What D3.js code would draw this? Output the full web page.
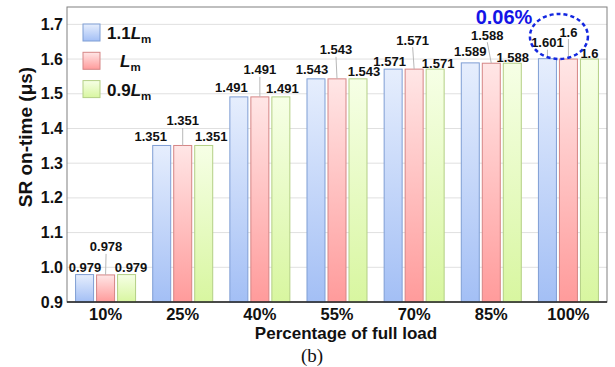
<!DOCTYPE html>
<html><head><meta charset="utf-8">
<script src="https://cdn.jsdelivr.net/npm/d3@7"></script>
<style>body{margin:0;background:#fff}svg{display:block}</style>
</head><body>
<svg id="c" width="615" height="367"></svg>
<script>
// ---- data ----
const categories = ["10%","25%","40%","55%","70%","85%","100%"];
const seriesNames = ["1.1Lm","Lm","0.9Lm"];
const s11 = [0.979,1.351,1.491,1.543,1.571,1.589,1.601];
const s10 = [0.978,1.351,1.491,1.543,1.571,1.588,1.6];
const s09 = [0.979,1.351,1.491,1.543,1.571,1.588,1.6];
const valueLabels11 = ["0.979","1.351","1.491","1.543","1.571","1.589","1.601"];
const valueLabels10 = ["0.978","1.351","1.491","1.543","1.571","1.588","1.6"];
const valueLabels09 = ["0.979","1.351","1.491","1.543","1.571","1.588","1.6"];
const yTicks = [0.9,1.0,1.1,1.2,1.3,1.4,1.5,1.6,1.7];
const annotationText = "0.06%";

// ---- layout (label nudges: [dx, dy] per series per group) ----
const labelNudge = [
  [[0.5,-7.5],[0.5,-28],[4.5,-7.5]],
  [[-11,-8.5],[0,-24.5],[7.5,-8.5]],
  [[-7.5,-9],[0,-27],[1.5,-8]],
  [[-4,-9],[-1,-29],[6,-7]],
  [[-3.5,-8],[-1.5,-29],[3,-6]],
  [[0,-11],[-4,-28],[0.5,-6]],
  [[0,-16],[0,-27],[0,-6]]
];
const leaders = [[0,1],[1,1],[2,1],[3,1],[4,1],[5,1],[6,1],[6,0]];

const svg = d3.select("#c");
const L=67,T=7,R=607,B=302;
const x0 = d3.scaleBand().domain(categories).range([L,R]).padding(0);
const x1 = d3.scaleBand().domain(seriesNames).range([8.57, x0.bandwidth()-8.57]).paddingInner(0.143);
const y = d3.scaleLinear().domain([0.9,1.75]).range([B,T]);

const font = "'Liberation Sans', Arial, sans-serif";
const defs = svg.append("defs");
const grads = [
  {id:"gb", top:"#e6eefd", bot:"#a3bff5", stroke:"#7f9ed4"},
  {id:"gr", top:"#ffe6e6", bot:"#ff9b9b", stroke:"#d58585"},
  {id:"gg", top:"#f6ffe6", bot:"#d8f6a0", stroke:"#b3cf85"}
];
grads.forEach(g=>{
  const lg = defs.append("linearGradient").attr("id",g.id).attr("x1",0).attr("y1",0).attr("x2",0).attr("y2",1);
  lg.append("stop").attr("offset","0%").attr("stop-color",g.top);
  lg.append("stop").attr("offset","100%").attr("stop-color",g.bot);
});

// gridlines
svg.append("g").selectAll("line").data(yTicks.slice(1)).join("line")
  .attr("x1",L).attr("x2",R).attr("y1",d=>y(d)).attr("y2",d=>y(d))
  .attr("stroke","#e0e0e0").attr("stroke-width",1);

// border
svg.append("rect").attr("x",L).attr("y",T).attr("width",R-L).attr("height",B-T)
  .attr("fill","none").attr("stroke","#808080").attr("stroke-width",1);

const allSeries = [s11,s10,s09];
const allLabels = [valueLabels11,valueLabels10,valueLabels09];

// bars
const bars = [];
categories.forEach((c,i)=>{
  seriesNames.forEach((s,j)=>{
    bars.push({c,i,s,j,v:allSeries[j][i],label:allLabels[j][i]});
  });
});
svg.append("g").selectAll("rect").data(bars).join("rect")
  .attr("x",d=>x0(d.c)+x1(d.s)).attr("width",x1.bandwidth())
  .attr("y",d=>y(d.v)).attr("height",d=>B-y(d.v))
  .attr("fill",d=>`url(#${grads[d.j].id})`)
  .attr("stroke",d=>grads[d.j].stroke).attr("stroke-width",1);

// leader lines
svg.append("g").selectAll("line").data(leaders).join("line")
  .each(function(p){
    const d = bars[p[0]*3+p[1]];
    const cx = x0(d.c)+x1(d.s)+x1.bandwidth()/2;
    const n = labelNudge[d.i][d.j];
    d3.select(this).attr("x1",cx+n[0]).attr("y1",y(d.v)+n[1]+7)
      .attr("x2",cx).attr("y2",y(d.v));
  })
  .attr("stroke","#b8b8b8").attr("stroke-width",1);

// value labels
svg.append("g").selectAll("text").data(bars).join("text")
  .attr("x",d=>x0(d.c)+x1(d.s)+x1.bandwidth()/2+labelNudge[d.i][d.j][0])
  .attr("y",d=>y(d.v)+labelNudge[d.i][d.j][1]+4.5)
  .attr("text-anchor","middle").attr("font-family",font).attr("font-weight","bold")
  .attr("font-size",13).attr("fill","#111").text(d=>d.label);

// bottom axis line
svg.append("line").attr("x1",L).attr("x2",R).attr("y1",B).attr("y2",B).attr("stroke","#222").attr("stroke-width",1.5);

// y ticks
svg.append("g").selectAll("text").data(yTicks).join("text")
  .attr("x",63).attr("y",d=>y(d)+5.5).attr("text-anchor","end")
  .attr("font-family",font).attr("font-weight","bold").attr("font-size",16).attr("fill","#111")
  .text(d=>d3.format(".1f")(d));

// x ticks
svg.append("g").selectAll("text").data(categories).join("text")
  .attr("x",d=>x0(d)+x0.bandwidth()/2).attr("y",319.5).attr("text-anchor","middle")
  .attr("font-family",font).attr("font-weight","bold").attr("font-size",16.5).attr("fill","#111")
  .text(d=>d);

// axis titles
svg.append("text").attr("x",346).attr("y",339).attr("text-anchor","middle")
  .attr("font-family",font).attr("font-weight","bold").attr("font-size",17).attr("fill","#111")
  .text("Percentage of full load");
svg.append("text").attr("transform","translate(32,137) rotate(-90)").attr("text-anchor","middle")
  .attr("font-family",font).attr("font-weight","bold").attr("font-size",19).attr("fill","#111")
  .text("SR on-time (μs)");
svg.append("text").attr("x",312).attr("y",362).attr("text-anchor","middle")
  .attr("font-family","'Liberation Serif','Times New Roman',serif").attr("font-size",19).attr("fill","#111")
  .text("(b)");

// legend
const legendParts = [["1.1","L","m"],["","L","m"],["0.9","L","m"]];
legendParts.forEach((p,j)=>{
  const yy = 24 + j*28.3;
  svg.append("rect").attr("x",83).attr("y",yy).attr("width",17).attr("height",17)
    .attr("fill",`url(#${grads[j].id})`).attr("stroke",grads[j].stroke).attr("stroke-width",1);
  const t = svg.append("text").attr("x", p[0]===""?120:107).attr("y",yy+15)
    .attr("font-family",font).attr("font-weight","bold").attr("font-size",17).attr("fill","#111");
  if(p[0]) t.append("tspan").text(p[0]);
  t.append("tspan").attr("font-style","italic").text(p[1]);
  t.append("tspan").attr("font-size",11.5).attr("dy",4).text(p[2]);
});

// annotation
svg.append("text").attr("x",504).attr("y",24).attr("text-anchor","middle")
  .attr("font-family",font).attr("font-weight","bold").attr("font-size",20).attr("fill","#1414e6")
  .text(annotationText);
const lastI = categories.length-1;
const ex = (x0(categories[lastI])+x1(seriesNames[0])+x0(categories[lastI])+x1(seriesNames[1])+x1.bandwidth())/2;
svg.append("ellipse").attr("cx",ex+1).attr("cy",36.5).attr("rx",29).attr("ry",22.5)
  .attr("fill","none").attr("stroke","#1428e0").attr("stroke-width",2.5).attr("stroke-dasharray","4,3");
</script>
</body></html>
